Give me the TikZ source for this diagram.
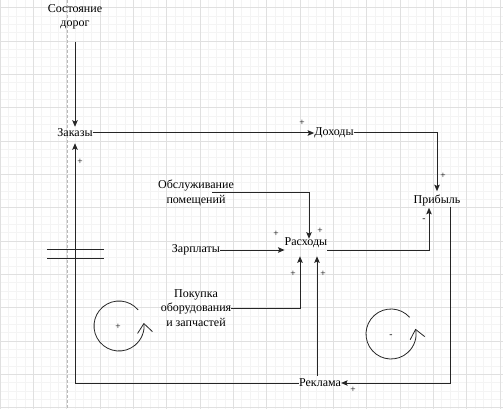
\documentclass[tikz,border=0pt]{standalone}
\usepackage{fontspec}
\setmainfont{Liberation Serif}
\usetikzlibrary{arrows.meta,calc}

\definecolor{gridminor}{HTML}{F4F4F4}
\definecolor{gridmajor}{HTML}{E0E0E0}
\definecolor{edgecol}{HTML}{262626}

\begin{document}
\begin{tikzpicture}[x=1pt,y=-1pt,
    link/.style={line width=1pt,draw=edgecol,-{Stealth[length=6.5pt,width=5.5pt,inset=1.2pt]}},
    wire/.style={line width=1pt,draw=edgecol},
    lbl/.style={font=\fontsize{12}{14.5}\selectfont,inner sep=0pt,align=center},
    sgn/.style={font=\fontsize{9.5}{10}\selectfont,inner sep=0pt},
    cycle/.style={line width=0.8pt,draw=edgecol,-{Straight Barb[length=9pt,width=15pt]}}]
    \path[use as bounding box] (0,0) rectangle (503,409);

    % background grid
    \foreach \i in {0,...,60} {
        \draw[gridminor,line width=0.5pt] (\i*8.333,0) -- (\i*8.333,409);
    }
    \foreach \j in {0,...,49} {
        \draw[gridminor,line width=0.5pt] (0,{7.7+(\j-1)*8.333}) -- (503,{7.7+(\j-1)*8.333});
    }
    \foreach \i in {0,...,15} {
        \draw[gridmajor,line width=0.6pt] (\i*33.333,0) -- (\i*33.333,409);
    }
    \foreach \j in {0,...,12} {
        \draw[gridmajor,line width=0.6pt] (0,{7.7+\j*33.333}) -- (503,{7.7+\j*33.333});
    }
    \draw[gray!55,dashed,line width=0.6pt,dash pattern=on 3pt off 2pt] (67,0) -- (67,409);

    % variables
    \node[lbl] (sost) at (75,17) {Состояние\\дорог};
    \node[lbl] (zakazy) at (75,133) {Заказы};
    \node[lbl] (dohody) at (334,133) {Доходы};
    \node[lbl] (pribyl) at (437,200) {Прибыль};
    \node[lbl] (obsl) at (196,193) {Обслуживание\\помещений};
    \node[lbl] (zarplaty) at (196,250) {Зарплаты};
    \node[lbl] (rashody) at (306,243) {Расходы};
    \node[lbl] (pokupka) at (196,308) {Покупка\\оборудования\\и запчастей};
    \node[lbl] (reklama) at (320,383) {Реклама};
    \coordinate (obsl-out) at (212,192);

    % links
    \draw[link] ([yshift=-12pt]sost.south) -- ([yshift=2pt]zakazy.north);
    \draw[link] (zakazy.east) -- (dohody.west);
    \draw[link] (dohody.east) -| ([yshift=3pt]pribyl.north);
    \draw[link] ([yshift=-7pt]rashody.east) -| ([xshift=-8pt,yshift=-2pt]pribyl.south);
    \draw[link] ([xshift=13pt,yshift=-1pt]pribyl.south) |- (reklama.east);
    \draw[link] (reklama.west) -| ([yshift=-6pt]zakazy.south);
    \draw[link] ([xshift=-3pt,yshift=3pt]reklama.north) -- ([xshift=11pt,yshift=-8pt]rashody.south);
    \draw[link] (obsl-out) -| ([xshift=3pt,yshift=-1pt]rashody.north);
    \draw[link] (zarplaty.east) -- ([yshift=-7pt]rashody.west);
    \draw[link] (pokupka.east) -| ([xshift=-6pt,yshift=-8pt]rashody.south);

    % delay mark
    \draw[wire] (47,249) -- (104,249);
    \draw[wire] (47,258) -- (104,258);

    % polarity signs
    \foreach \x/\y/\s [count=\k] in {302/123/+, 443/176/+, 424/220/-, 353/390/+,
        320/231/+, 276/234/+, 293/274/+, 323/274/+, 80/162/+, 118/327/+, 391/336/-} {
        \node[sgn] (sign\k) at (\x,\y) {\s};
    }

    % loops
    \coordinate (loopL) at (119,326);
    \coordinate (loopR) at (391,334);
    \draw[cycle] ($(loopL)+(-40:25)$) arc[start angle=-40,end angle=-367,radius=25];
    \draw[cycle] ($(loopR)+(-42:25)$) arc[start angle=-42,end angle=-372,radius=25];
\end{tikzpicture}
\end{document}
